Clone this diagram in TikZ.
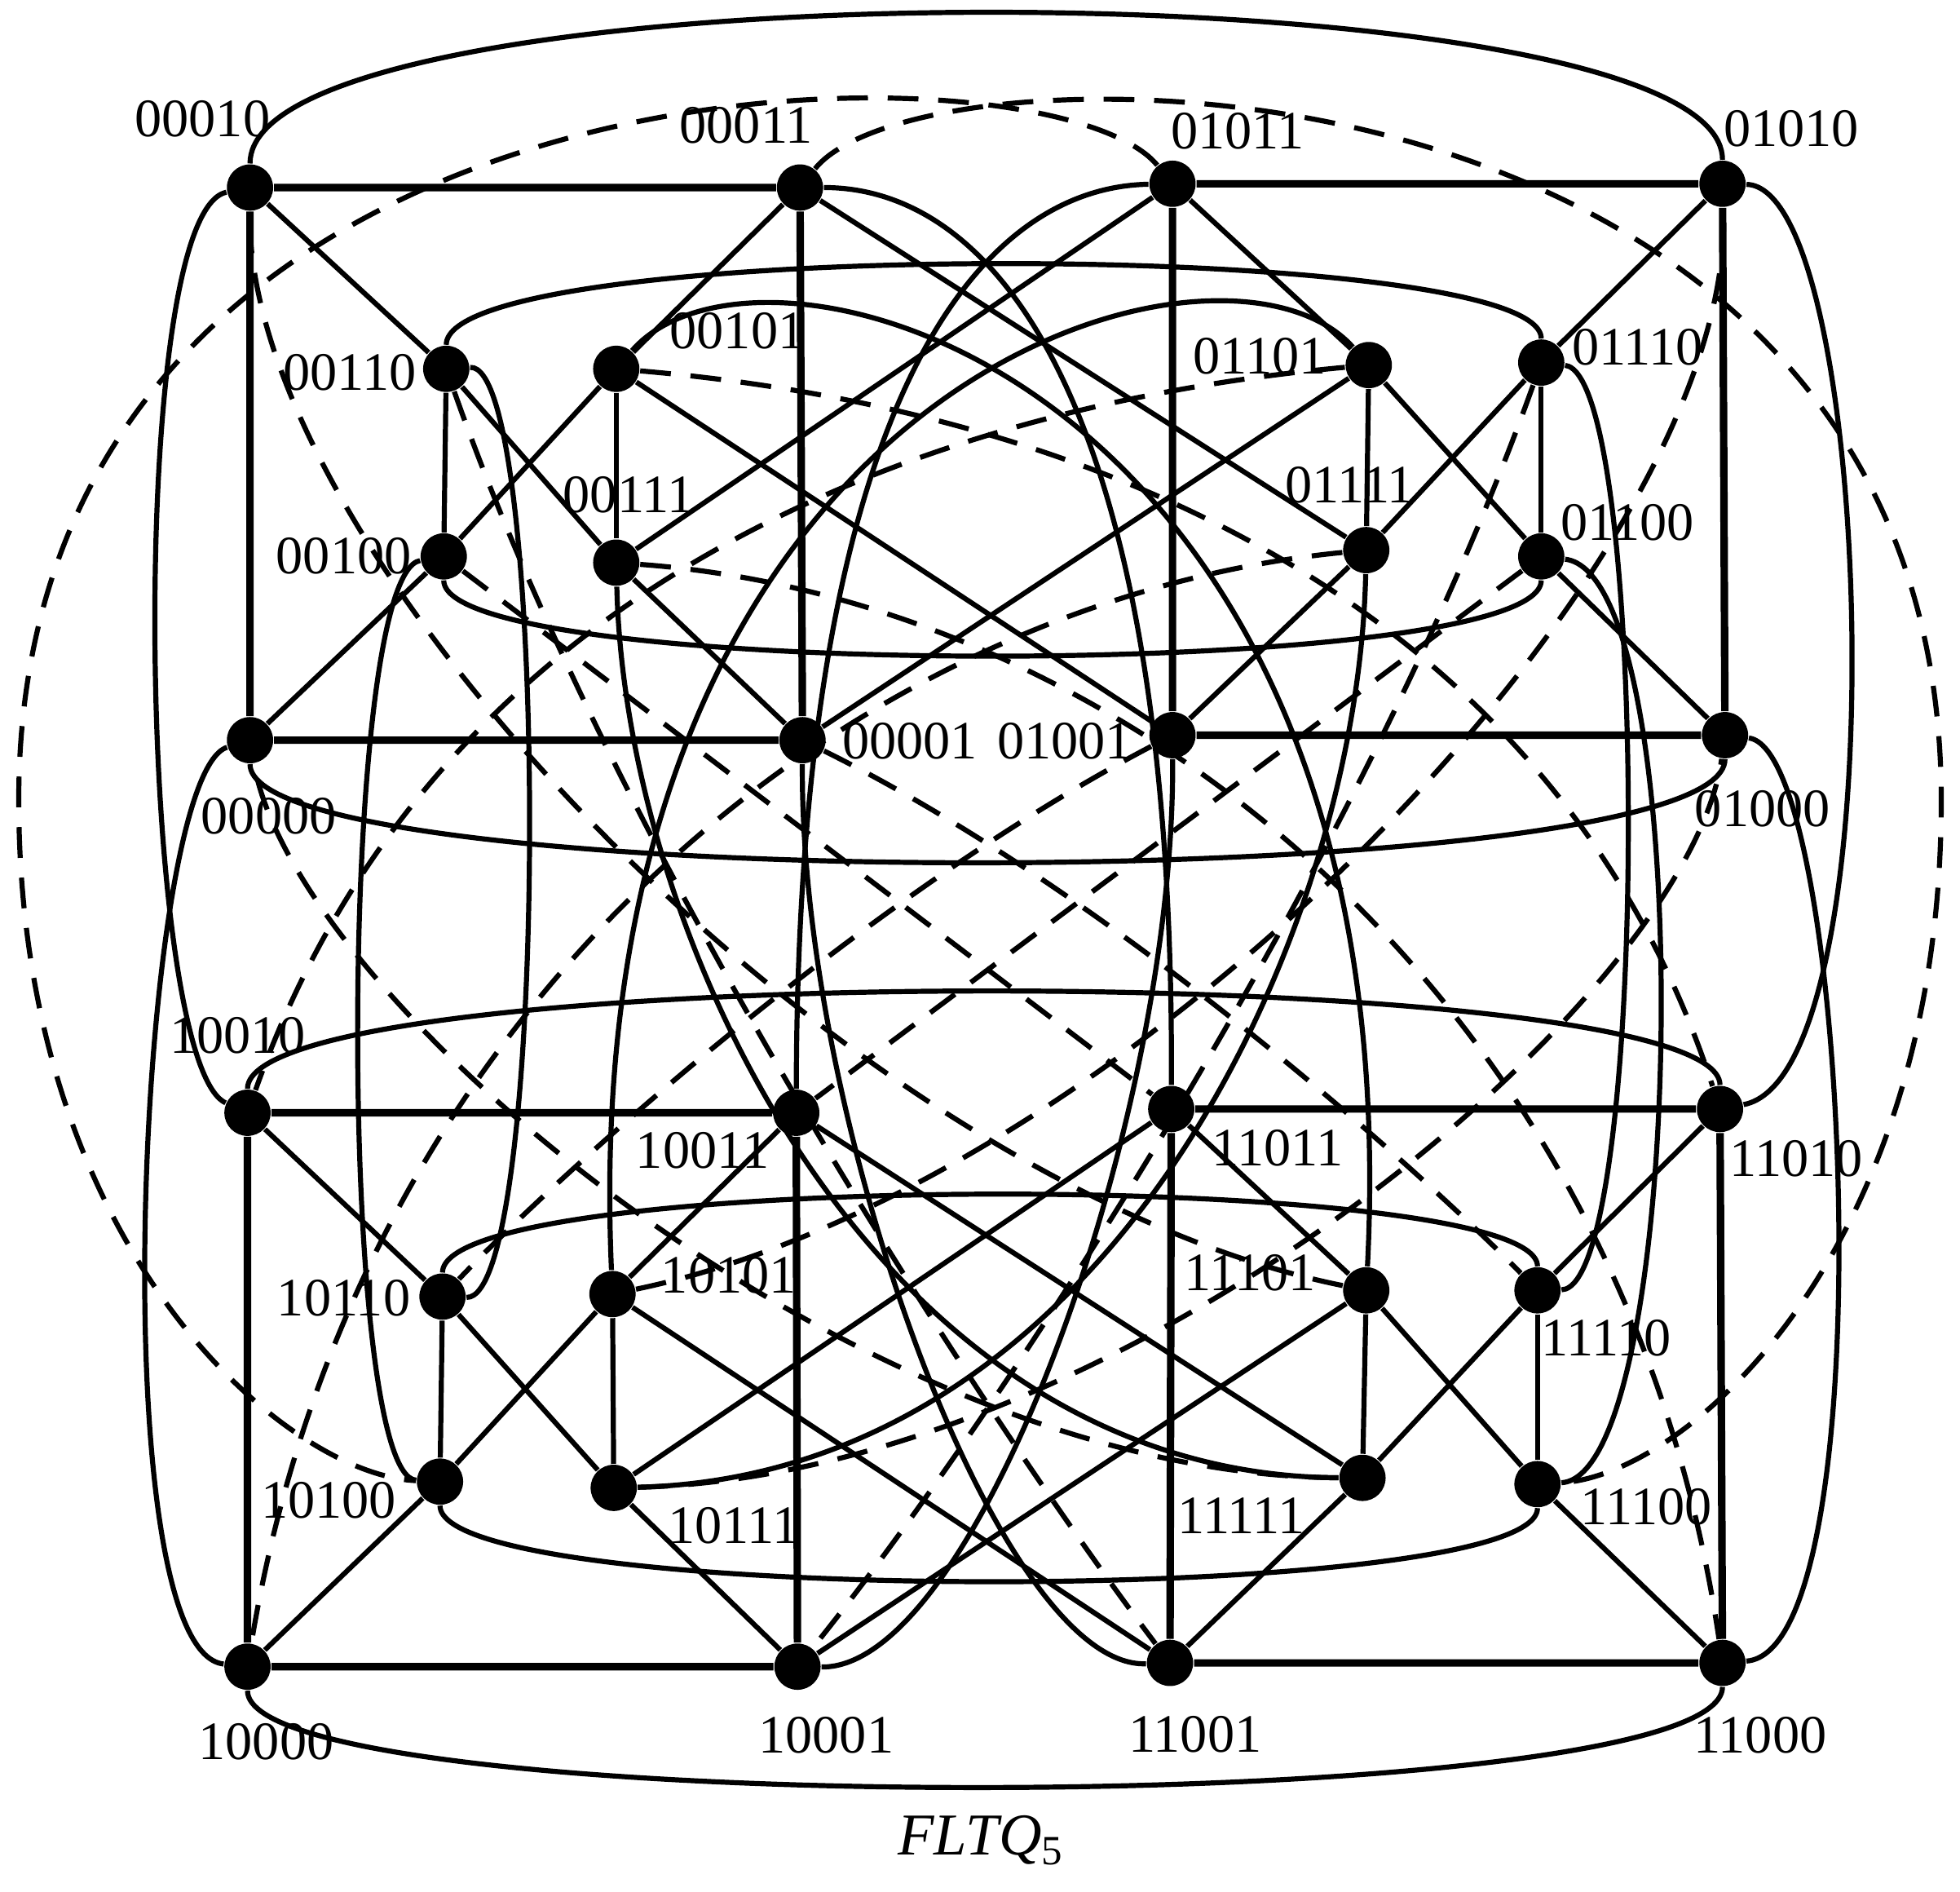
\documentclass[tikz,border=0pt]{standalone}
\usepackage{fontspec}
\setmainfont{Liberation Serif}
\begin{document}
\begin{tikzpicture}[x=0.01cm,y=-0.01cm,
  v/.style={circle,fill=black,inner sep=0pt,minimum size=0.37cm},
  lab/.style={font=\fontsize{12.3}{14}\selectfont,inner sep=0pt},
  e/.style={line width=1.15pt},
  sq/.style={line width=1.7pt},
  d/.style={line width=1.15pt,dash pattern=on 7pt off 4.5pt}]
\useasboundingbox (0,0) rectangle (1568,1513);
% vertices
\foreach \n/\x/\y in {00010/200/150,00011/640/150,01011/938/147,01010/1378/147,
 00110/357/295,00101/493/295,01101/1095/292,01110/1233/290,
 00100/355/445,00111/493/450,01111/1093/440,01100/1233/445,
 00000/200/592,00001/642/592,01001/938/588,01000/1380/588,
 10010/198/890,10011/637/890,11011/937/887,11010/1376/887,
 10110/354/1037,10101/490/1035,11101/1093/1032,11110/1230/1032,
 10100/352/1185,10111/491/1190,11111/1090/1182,11100/1230/1187,
 10000/198/1333,10001/638/1333,11001/936/1330,11000/1378/1330}
 \node[v] (a\n) at (\x,\y) {};
% labels
\foreach \n/\x/\y in {00010/162/95,00011/597/100,01011/990/105,01010/1433/103,
 00110/280/298,00101/590/265,01101/1008/285,01110/1310/278,
 00100/275/445,00111/503/396,01111/1080/388,01100/1302/418,
 00000/215/653,00001/728/593,01001/852/593,01000/1410/647,
 10010/190/828,10011/562/920,11011/1022/918,11010/1437/927,
 10110/275/1038,10101/583/1020,11101/1000/1018,11110/1285/1070,
 10100/263/1200,10111/587/1220,11111/993/1212,11100/1317/1205,
 10000/213/1393,10001/661/1388,11001/956/1387,11000/1408/1388}
 \node[lab] (l\n) at (\x,\y) {\n};
\node[lab,font=\fontsize{13.5}{15}\selectfont\itshape] (title) at (785,1472) {FLTQ\textsubscript{\upshape 5}};
% squares
\draw[sq] (a00010)--(a00011)--(a00001)--(a00000)--(a00010);
\draw[sq] (a01011)--(a01010)--(a01000)--(a01001)--(a01011);
\draw[sq] (a10010)--(a10011)--(a10001)--(a10000)--(a10010);
\draw[sq] (a11011)--(a11010)--(a11000)--(a11001)--(a11011);
% straight edges inside quadrants
\foreach \p in {0,1}{
 \foreach \a/\b in {0010/0110,0110/0111,0111/0001,0011/0101,0101/0100,0100/0000,0110/0100,0101/0111,
   1010/1110,1110/1111,1111/1001,1011/1101,1101/1100,1100/1000,1110/1100,1101/1111,
   0011/1111,1011/0111,0101/1001,0001/1101}
  \draw[e] (a\p\a)--(a\p\b);
}
% horizontal arcs
\draw[e] (a00010) .. controls (200,-30) and (1378,-30) .. (a01010);
\draw[e] (a00110) .. controls (357,190) and (1233,190) .. (a01110);
\draw[e] (a00100) .. controls (355,545) and (1233,545) .. (a01100);
\draw[e] (a00000) .. controls (200,717) and (1380,717) .. (a01000);
\draw[e] (a10010) .. controls (198,767) and (1376,767) .. (a11010);
\draw[e] (a10110) .. controls (354,935) and (1230,935) .. (a11110);
\draw[e] (a10100) .. controls (352,1285) and (1230,1285) .. (a11100);
\draw[e] (a10000) .. controls (198,1456) and (1378,1456) .. (a11000);
% vertical curves
\draw[e] (a00010) .. controls (100,170) and (110,850) .. (a10010);
\draw[e] (a00000) .. controls (110,620) and (80,1320) .. (a10000);
\draw[e] (a01010) .. controls (1500,150) and (1520,860) .. (a11010);
\draw[e] (a01000) .. controls (1480,600) and (1510,1320) .. (a11000);
\draw[e] (a00110) .. controls (440,290) and (440,1040) .. (a10110);
\draw[e] (a00100) .. controls (270,460) and (270,1180) .. (a10100);
\draw[e] (a01110) .. controls (1320,300) and (1320,1030) .. (a11110);
\draw[e] (a01100) .. controls (1360,460) and (1350,1180) .. (a11100);
% long twisted curves
\draw[e] (a00011) .. controls (800,150) and (940,330) .. (a11011);
\draw[e] (a01011) .. controls (778,150) and (638,330) .. (a10011);
\draw[e] (a00001) .. controls (640,900) and (800,1335) .. (a11001);
\draw[e] (a01001) .. controls (940,900) and (780,1335) .. (a10001);
\draw[e] (a00101) .. controls (610,160) and (1130,300) .. (a11101);
\draw[e] (a01101) .. controls (978,160) and (458,300) .. (a10101);
\draw[e] (a00111) .. controls (500,750) and (700,1180) .. (a11111);
\draw[e] (a01111) .. controls (1086,750) and (886,1180) .. (a10111);
% complementary (dashed) edges
\draw[d] (a00011) .. controls (740,25) and (1553,25) .. (1553,640) coordinate (rr)
   .. controls (1553,1000) and (1350,1180) .. (a11100);
\draw[d] (a01011) .. controls (838,25) and (15,25) .. (15,640) coordinate (ll)
   .. controls (15,1000) and (230,1180) .. (a10100);
\draw[d] (a00101) .. controls (900,330) and (1250,500) .. (a11010);
\draw[d] (a01101) .. controls (686,330) and (336,500) .. (a10010);
\draw[d] (a00111) .. controls (900,480) and (1300,800) .. (a11000);
\draw[d] (a01111) .. controls (686,480) and (286,800) .. (a10000);
\draw[d] (a10101) .. controls (900,950) and (1390,450) .. (a01010);
\draw[d] (a11101) .. controls (686,950) and (196,450) .. (a00010);
\draw[d] (a10111) .. controls (900,1180) and (1350,800) .. (a01000);
\draw[d] (a11111) .. controls (686,1180) and (236,800) .. (a00000);
\draw[d] (a00001) .. controls (900,720) and (1150,950) .. (a11110);
\draw[d] (a01001) .. controls (686,720) and (436,950) .. (a10110);
\draw[d] (a00100) -- (a11011);
\draw[d] (a01100) -- (a10011);
\draw[d] (a00110) .. controls (500,700) and (800,1150) .. (a11001);
\draw[d] (a01110) .. controls (1086,700) and (786,1150) .. (a10001);
\end{tikzpicture}
\end{document}
